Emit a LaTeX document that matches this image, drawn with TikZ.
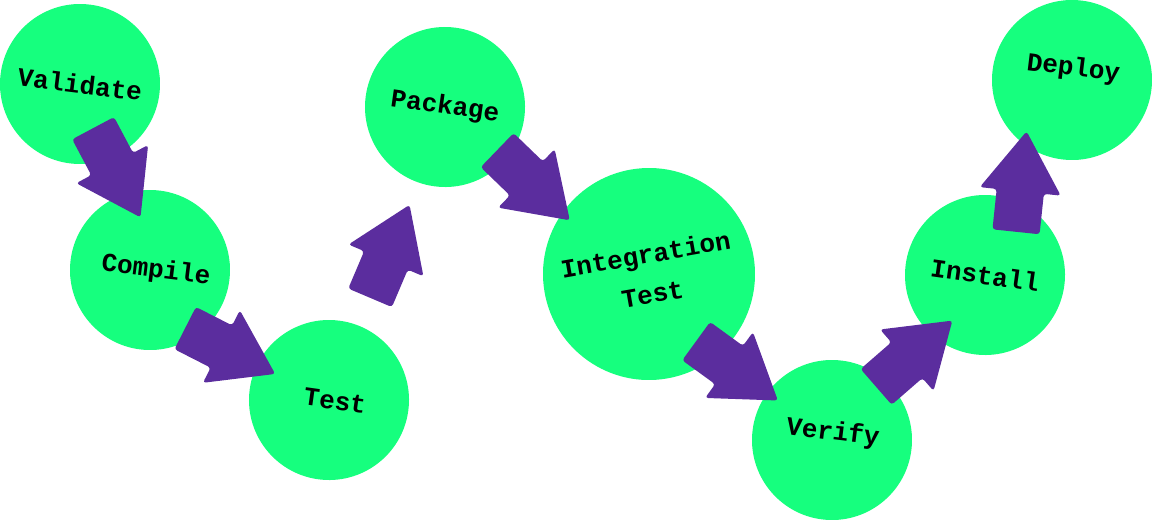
\documentclass[tikz,border=0pt]{standalone}
\usepackage{fontspec}
\setmonofont{Liberation Mono}
\usetikzlibrary{shapes.arrows}
\definecolor{stagegreen}{RGB}{22,255,126}
\definecolor{flowpurple}{RGB}{91,45,158}
\tikzset{
  stage/.style={circle,fill=stagegreen,minimum size=160pt,inner sep=0pt,
    align=center,font=\fontsize{26}{40}\selectfont\ttfamily\bfseries},
  flow/.style={single arrow,fill=flowpurple,rounded corners=3pt,anchor=tail,
    inner xsep=0pt,inner ysep=23.5pt,minimum height=101pt,minimum width=81pt,
    single arrow head extend=17pt,single arrow tip angle=68}
}
\newcommand{\lift}[2]{\raisebox{#1}[\height][\depth]{#2}}
\begin{document}
\begin{tikzpicture}[x=1pt,y=-1pt]
  \useasboundingbox (0,0) rectangle (1152,520);
  %% Stages
  \node[stage,rotate=-7] (validate) at (80,84) {Validate};
  \node[stage,rotate=-7] (compile) at (150,270) {\hspace*{6pt}Compile\hspace*{-6pt}};
  \node[stage,rotate=-8] (test) at (329,400) {\hspace*{6pt}Test\hspace*{-6pt}};
  \node[stage,rotate=-8] (package) at (445,107) {Package};
  \node[stage,rotate=10,minimum size=212pt] (integration) at (649,274) {Integration\\Test};
  \node[stage,rotate=-7] (verify) at (832,440) {\lift{7pt}{Verify}};
  \node[stage,rotate=-8] (install) at (985,275) {Install};
  \node[stage,rotate=-7] (deploy) at (1072,80) {\lift{11pt}{Deploy}};
  %% Flow arrows (placed by their tails)
  \node[flow,rotate=-62] (validate-compile) at (93,128) {};
  \node[flow,rotate=-27] (compile-test) at (185,328) {};
  \node[flow,rotate=67] (test-package) at (370,298) {};
  \node[flow,rotate=-44] (package-integration) at (497,150) {};
  \node[flow,rotate=-36] (integration-verify) at (696,341) {};
  \node[flow,rotate=41] (verify-install) at (876,387) {};
  \node[flow,rotate=84] (install-deploy) at (1016,232) {};
\end{tikzpicture}
\end{document}
